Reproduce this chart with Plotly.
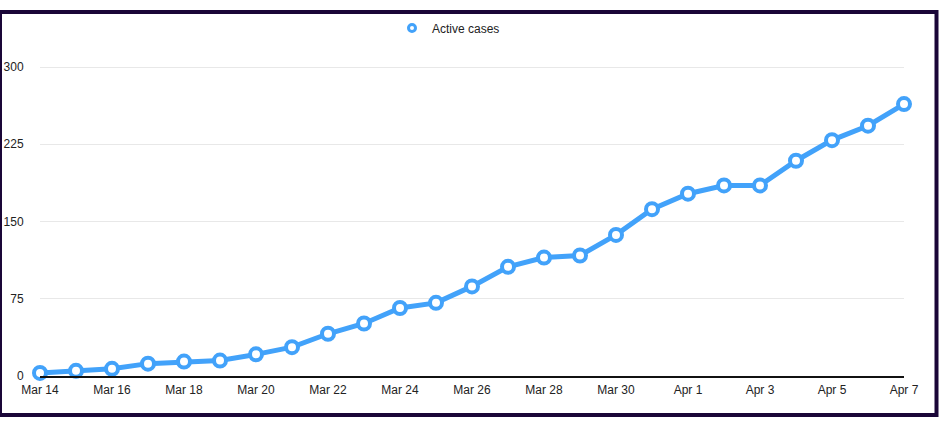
import plotly.graph_objects as go
import pandas as pd

dates = pd.date_range("2020-03-14", "2020-04-07", freq="D")
active_cases = [3, 5, 7, 12, 14, 15, 21, 28, 41, 51, 66, 71, 87, 106, 115, 117,
                137, 162, 177, 185, 185, 209, 229, 243, 264]
series_name = "Active cases"
y_ticks = [0, 75, 150, 225, 300]

BLUE = "#42a2fa"
W, H = 947, 422
ML, MR, MT, MB = 40, 43, 36, 46
PW, PH = W - ML - MR, H - MT - MB

def px_x(p):
    return (p - ML) / PW

def px_y(p):
    return (H - MB - p) / PH

fig = go.Figure()
fig.add_trace(go.Scatter(
    x=dates, y=active_cases, mode="lines+markers", showlegend=False,
    line=dict(color=BLUE, width=5),
    marker=dict(size=12, color="white", line=dict(color=BLUE, width=4)),
    cliponaxis=False, hoverinfo="skip",
))
fig.add_trace(go.Scatter(
    x=[None], y=[None], mode="markers", name=series_name,
    marker=dict(size=7, color="white", line=dict(color=BLUE, width=3)),
))

fig.update_layout(
    width=W, height=H,
    margin=dict(l=ML, r=MR, t=MT, b=MB, autoexpand=False),
    paper_bgcolor="white", plot_bgcolor="white",
    font=dict(family="Liberation Sans, Arial, sans-serif", size=12, color="#222"),
    showlegend=True,
    legend=dict(orientation="h", x=px_x(392), xanchor="left",
                y=px_y(28), yanchor="middle", font=dict(size=12, color="#222"),
                bgcolor="rgba(0,0,0,0)"),
    xaxis=dict(
        type="date", automargin=False,
        range=[dates[0], dates[-1]],
        tickformat="%b %-d", dtick=2 * 86400000, tick0=dates[0],
        showgrid=False, zeroline=False,
        showline=True, linecolor="#111", linewidth=1.5,
        ticks="outside", ticklen=2, tickcolor="rgba(0,0,0,0)",
        tickfont=dict(size=12, color="#222"),
    ),
    yaxis=dict(
        automargin=False,
        range=[0, 300 * PH / 309],
        tickvals=y_ticks,
        showgrid=True, gridcolor="#e8e8e8", gridwidth=1,
        zeroline=False, showline=False,
        ticks="outside", ticklen=13, tickcolor="rgba(0,0,0,0)",
        tickfont=dict(size=12, color="#222"),
    ),
    shapes=[dict(
        type="rect", xref="paper", yref="paper",
        x0=px_x(0), x1=px_x(936.5), y0=px_y(415), y1=px_y(12),
        line=dict(color="#1a0638", width=4), fillcolor="rgba(0,0,0,0)",
        layer="above",
    )],
)

fig.write_html("out.html", config={"displayModeBar": False},
               post_script="document.body.style.margin='0';")
